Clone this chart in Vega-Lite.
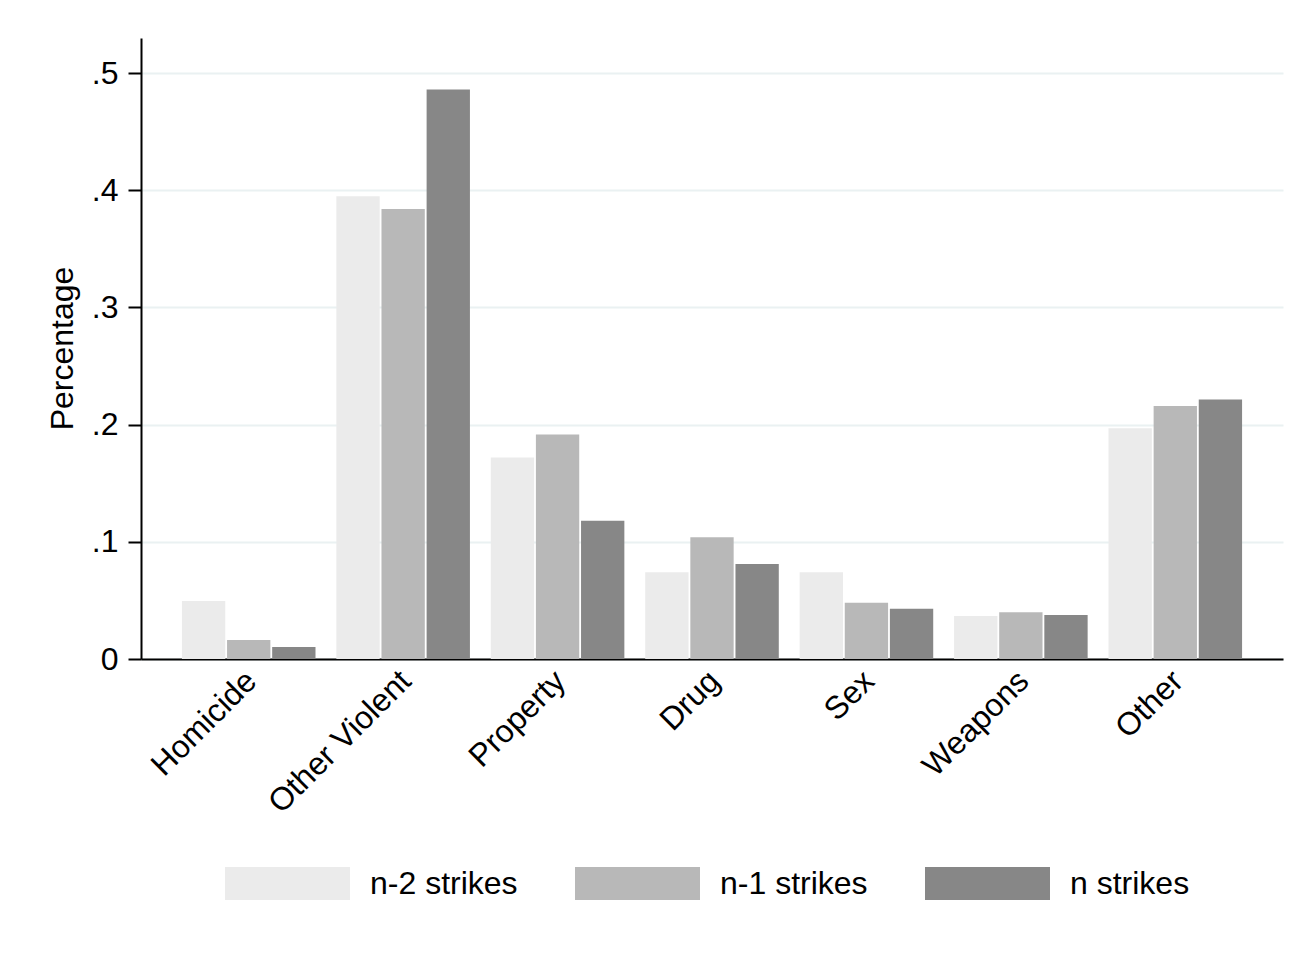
{
  "$schema": "https://vega.github.io/schema/vega-lite/v6.json",
  "width": 1142,
  "height": 621,
  "autosize": {"type": "none"},
  "padding": {"left": 141, "top": 38, "right": 32, "bottom": 296},
  "background": "white",
  "config": {
    "view": {"stroke": null},
    "font": "Liberation Sans",
    "axis": {"labelFont": "Liberation Sans", "titleFont": "Liberation Sans", "labelColor": "#000", "titleColor": "#000", "titleFontWeight": "normal"},
    "legend": {"labelFont": "Liberation Sans"}
  },
  "data": {
    "values": [
      {"offense": "Homicide", "group": "n-2 strikes", "value": 0.0494},
      {"offense": "Homicide", "group": "n-1 strikes", "value": 0.0162},
      {"offense": "Homicide", "group": "n strikes", "value": 0.0102},
      {"offense": "Other Violent", "group": "n-2 strikes", "value": 0.395},
      {"offense": "Other Violent", "group": "n-1 strikes", "value": 0.384},
      {"offense": "Other Violent", "group": "n strikes", "value": 0.486},
      {"offense": "Property", "group": "n-2 strikes", "value": 0.172},
      {"offense": "Property", "group": "n-1 strikes", "value": 0.1915},
      {"offense": "Property", "group": "n strikes", "value": 0.118},
      {"offense": "Drug", "group": "n-2 strikes", "value": 0.074},
      {"offense": "Drug", "group": "n-1 strikes", "value": 0.104},
      {"offense": "Drug", "group": "n strikes", "value": 0.081},
      {"offense": "Sex", "group": "n-2 strikes", "value": 0.074},
      {"offense": "Sex", "group": "n-1 strikes", "value": 0.048},
      {"offense": "Sex", "group": "n strikes", "value": 0.0428},
      {"offense": "Weapons", "group": "n-2 strikes", "value": 0.0366},
      {"offense": "Weapons", "group": "n-1 strikes", "value": 0.0400},
      {"offense": "Weapons", "group": "n strikes", "value": 0.0375},
      {"offense": "Other", "group": "n-2 strikes", "value": 0.197},
      {"offense": "Other", "group": "n-1 strikes", "value": 0.216},
      {"offense": "Other", "group": "n strikes", "value": 0.2215}
    ]
  },
  "mark": {"type": "bar"},
  "encoding": {
    "x": {
      "field": "offense",
      "type": "nominal",
      "sort": ["Homicide", "Other Violent", "Property", "Drug", "Sex", "Weapons", "Other"],
      "scale": {"paddingInner": 0.135, "paddingOuter": 0.265},
      "axis": {
        "title": null,
        "labelAngle": -45,
        "labelAlign": "right",
        "labelBaseline": "top",
        "labelFontSize": 32,
        "labelPadding": 6,
        "labelOffset": -8,
        "labelLimit": 500,
        "ticks": false,
        "domainColor": "#000",
        "domainWidth": 2,
        "grid": false
      }
    },
    "xOffset": {
      "field": "group",
      "type": "nominal",
      "sort": ["n-2 strikes", "n-1 strikes", "n strikes"],
      "scale": {"paddingInner": 0.04}
    },
    "y": {
      "field": "value",
      "type": "quantitative",
      "scale": {"domain": [0, 0.53], "nice": false},
      "axis": {
        "title": "Percentage",
        "titleFontSize": 32,
        "titleAngle": 270,
        "titleX": -79,
        "titleY": 310,
        "titleAlign": "center",
        "titleBaseline": "middle",
        "values": [0, 0.1, 0.2, 0.3, 0.4, 0.5],
        "labelExpr": "datum.value == 0 ? '0' : replace(format(datum.value, '.1f'), '0.', '.')",
        "labelFontSize": 32,
        "labelPadding": 10,
        "tickSize": 13,
        "tickColor": "#000",
        "tickWidth": 2,
        "domainColor": "#000",
        "domainWidth": 2,
        "grid": true,
        "gridColor": "#eaf1f2",
        "gridWidth": 2
      }
    },
    "color": {
      "field": "group",
      "type": "nominal",
      "sort": ["n-2 strikes", "n-1 strikes", "n strikes"],
      "scale": {"domain": ["n-2 strikes", "n-1 strikes", "n strikes"], "range": ["#ebebeb", "#b8b8b8", "#878787"]},
      "legend": {
        "title": null,
        "orient": "none",
        "legendX": 84,
        "legendY": 783,
        "direction": "horizontal",
        "symbolType": "M-1,-0.264H1V0.264H-1Z",
        "symbolSize": 15625,
        "symbolStrokeWidth": 0,
        "labelFontSize": 32,
        "labelOffset": 20,
        "gridAlign": "all",
        "columnPadding": 57,
        "labelColor": "#000"
      }
    }
  }
}
